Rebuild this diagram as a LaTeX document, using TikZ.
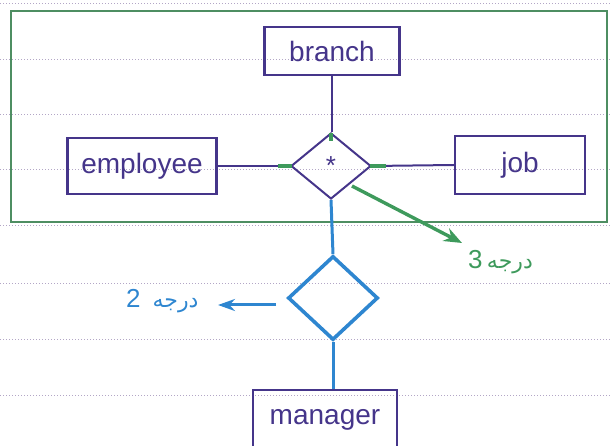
\documentclass[tikz,border=0pt]{standalone}
\usepackage{fontspec}
\setmainfont{Liberation Sans}
\newfontfamily\arabicfont[Script=Arabic]{DejaVu Sans}
\TeXXeTstate=1
\usetikzlibrary{shapes.geometric,arrows.meta}
\definecolor{ink}{HTML}{45358A}
\definecolor{grn}{HTML}{3E9A5C}
\definecolor{rectgrn}{HTML}{4E8E62}
\definecolor{blu}{HTML}{2E86D0}
\definecolor{rule}{HTML}{B3A6C6}
\begin{document}
\begin{tikzpicture}[x=1pt,y=-1pt,
  entity/.style={draw=ink,line width=2.2pt,text=ink,inner sep=0pt,font=\fontsize{28}{32}\selectfont},
  rel/.style={draw=ink,line width=2pt,shape=diamond,inner sep=0pt,minimum width=80pt,minimum height=66pt,text=ink},
  brel/.style={draw=blu,line width=3.6pt,shape=diamond,inner sep=0pt,minimum width=90pt,minimum height=84pt},
  conn/.style={draw=ink,line width=2pt},
  bconn/.style={draw=blu,line width=3pt},
  gmark/.style={draw=grn,line width=4pt},
  ruled/.style={draw=rule,line width=1pt,dash pattern=on 1.2pt off 1.8pt}]
\useasboundingbox (0,0) rectangle (611,446);
% ruled paper
\foreach \yy in {4,60,115,170,226,284,340,396}
  \draw[ruled] (0,\yy) -- (611,\yy);
% green frame
\draw[rectgrn,line width=2.8pt] (11,11) rectangle (607,222);
% entities
\node[entity,minimum width=135pt,minimum height=48pt] (branch) at (332,51) {branch};
\node[entity,minimum width=149pt,minimum height=56pt] (employee) at (142,166) {employee};
\node[entity,minimum width=130pt,minimum height=58pt] (job) at (520,165) {job};
\node[entity,minimum width=144pt,minimum height=60pt] (manager) at (325,420) {manager};
% relationships
\node[rel] (r1) at (331,166) {\fontsize{26}{26}\selectfont *};
\node[brel] (r2) at (333,298) {};
% connectors
\draw[conn] (branch.south) -- (branch.south |- r1.north);
\draw[conn] (employee.east) -- (r1.west);
\draw[conn] (r1.east) -- (job.west);
\draw[bconn] (r1.south) -- (r2.north);
\draw[bconn] (r2.south) -- (r2.south |- manager.north);
% green marks
\draw[gmark] ([yshift=-9pt]r1.north) -- ([yshift=-1pt]r1.north);
\draw[gmark] ([xshift=-12pt]r1.west) -- ([xshift=2pt]r1.west);
\draw[gmark] ([xshift=-2pt]r1.east) -- ([xshift=14pt]r1.east);
% annotations
\coordinate (g1) at (352,186);
\coordinate (g2) at (462,243);
\draw[grn,line width=3.4pt,-{Stealth[length=18pt,width=14pt]}] (g1) -- (g2);
\node[text=grn,font=\fontsize{26}{30}\selectfont,anchor=west,inner sep=0pt] (t3) at (468,262) {3\,{\arabicfont\fontsize{22}{26}\selectfont\beginR درجه\endR}};
\coordinate (b1) at (276,305);
\coordinate (b2) at (218,305);
\draw[blu,line width=3pt,-{Stealth[length=17pt,width=12pt]}] (b1) -- (b2);
\node[text=blu,font=\fontsize{26}{30}\selectfont,anchor=west,inner sep=0pt] (t2) at (126,301) {2\hspace{12pt}{\arabicfont\fontsize{22}{26}\selectfont\beginR درجه\endR}};
\end{tikzpicture}
\end{document}
